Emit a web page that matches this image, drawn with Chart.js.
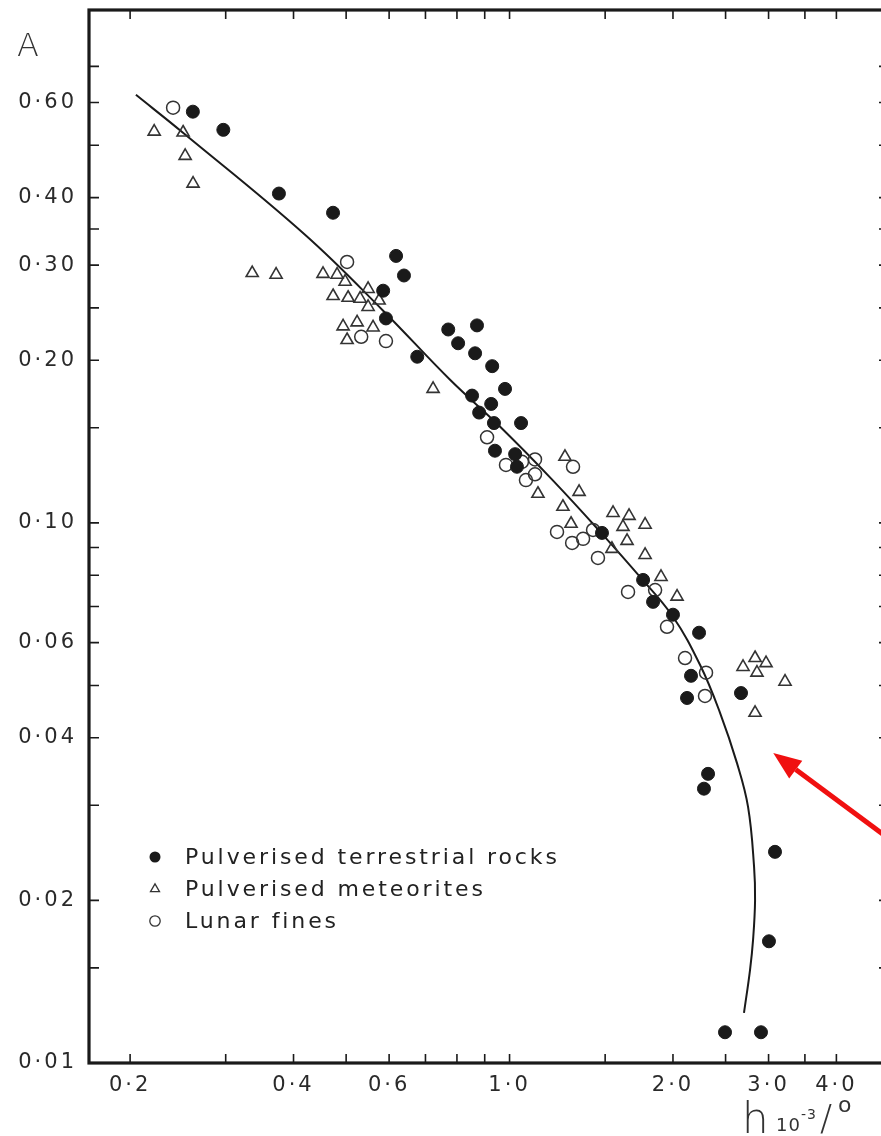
<!DOCTYPE html>
<html>
<head>
<meta charset="utf-8">
<script src="https://cdn.jsdelivr.net/npm/chart.js@4/dist/chart.umd.min.js"></script>
<style>
  html, body { margin: 0; padding: 0; background: #fff; overflow: hidden; width: 881px; height: 1136px; }
  #wrap { position: absolute; left: 0; top: 0; width: 900px; height: 1136px; }
</style>
</head>
<body>
<div id="wrap"><canvas id="c" width="900" height="1136"></canvas></div>
<script>
// Pulverised terrestrial rocks: h (10^-3 /deg) and A
const rocksH = [0.261, 0.297, 0.376, 0.473, 0.618, 0.639, 0.585, 0.592, 0.676, 0.771, 0.804, 0.871, 0.864,
                0.929, 0.981, 0.853, 0.925, 0.879, 0.936, 1.050, 0.940, 1.024, 1.032, 1.480, 1.762, 1.838,
                2.000, 2.234, 2.159, 2.123, 2.669, 2.321, 2.281, 3.083, 3.005, 2.494, 2.905];
const rocksA = [0.577, 0.534, 0.407, 0.375, 0.312, 0.287, 0.269, 0.239, 0.203, 0.228, 0.215, 0.232, 0.206,
                0.195, 0.177, 0.172, 0.166, 0.160, 0.153, 0.153, 0.136, 0.134, 0.127, 0.0958, 0.0784, 0.0714,
                0.0676, 0.0626, 0.0521, 0.0474, 0.0484, 0.0343, 0.0322, 0.0246, 0.0168, 0.0114, 0.0114];

// Pulverised meteorites
const meteorH = [0.2215, 0.2504, 0.2526, 0.2612, 0.3357, 0.3715, 0.4533, 0.4812, 0.4979, 0.4731, 0.5042,
                 0.5305, 0.5488, 0.5488, 0.5750, 0.4936, 0.5238, 0.5605, 0.5020, 0.7230, 1.265, 1.128, 1.343,
                 1.254, 1.298, 1.551, 1.660, 1.777, 1.618, 1.646, 1.777, 1.901, 2.035, 2.692, 2.833, 2.968,
                 2.856, 3.217, 2.833, 1.544];
const meteorA = [0.530, 0.528, 0.478, 0.4245, 0.290, 0.288, 0.289, 0.288, 0.2795, 0.263, 0.261,
                 0.260, 0.271, 0.251, 0.258, 0.231, 0.235, 0.230, 0.218, 0.177, 0.1325, 0.1132, 0.1141,
                 0.1071, 0.0996, 0.1043, 0.1030, 0.0992, 0.0983, 0.0926, 0.0872, 0.0794, 0.0730, 0.0541, 0.0562, 0.0550,
                 0.0528, 0.0508, 0.0445, 0.0895];

// Lunar fines
const lunarH = [0.240, 0.502, 0.533, 0.592, 0.909, 0.985, 1.072, 1.114, 1.114, 1.309, 1.223, 1.304, 1.366,
                1.425, 1.455, 1.653, 1.854, 1.950, 2.105, 2.301, 2.291, 1.054];
const lunarA = [0.587, 0.304, 0.221, 0.217, 0.144, 0.128, 0.120, 0.123, 0.131, 0.127, 0.0962, 0.0918, 0.0934,
                0.0970, 0.0861, 0.0745, 0.0751, 0.0642, 0.0562, 0.0528, 0.0478, 0.1297];

// Fitted curve, traced from top-left down to where it bends back
const curveH = [0.205, 0.250, 0.420, 0.585, 0.777, 0.961, 1.198, 1.486, 1.739, 2.000, 2.243, 2.442,
                2.624, 2.750, 2.821, 2.833, 2.809, 2.773, 2.703];
const curveA = [0.620, 0.528, 0.3415, 0.247, 0.184, 0.1506, 0.1202, 0.0950, 0.0794, 0.0670, 0.0546, 0.0445,
                0.0359, 0.0298, 0.0231, 0.0200, 0.0169, 0.01486, 0.01238];

// Axis ticks and labelled values
const xTicks = [0.2, 0.3, 0.4, 0.5, 0.6, 0.7, 0.8, 0.9, 1, 1.5, 2, 2.5, 3, 3.5, 4];
const xLabels = [0.2, 0.4, 0.6, 1, 2, 3, 4];
const yTicks = [0.01, 0.015, 0.02, 0.03, 0.04, 0.05, 0.06, 0.07, 0.08, 0.09, 0.1, 0.15, 0.2, 0.25, 0.3, 0.35, 0.4, 0.5, 0.6, 0.7];
const yLabels = [0.01, 0.02, 0.04, 0.06, 0.1, 0.2, 0.3, 0.4, 0.6];

const seriesNames = ['Pulverised terrestrial rocks', 'Pulverised meteorites', 'Lunar fines'];

// Annotation arrow (data coordinates of tip and tail)
const arrowTip = [3.06, 0.0375];
const arrowTail = [5.42, 0.0245];

const pairs = (xs, ys) => xs.map((x, i) => ({ x: x, y: ys[i] }));
const FONT = '"DejaVu Sans", "Liberation Sans", sans-serif';
const INK = '#1a1a1a';

const hasValue = (list, v) => list.some(l => Math.abs(l - v) < 1e-9);

// Frame, inward tick marks, legend, titles and arrow
const decorations = {
  id: 'decorations',
  beforeDraw(chart) {
    chart.ctx.letterSpacing = '3px';
  },
  afterDraw(chart) {
    const ctx = chart.ctx;
    const a = chart.chartArea;
    const xs = chart.scales.x, ys = chart.scales.y;
    ctx.save();
    ctx.letterSpacing = '0px';
    ctx.strokeStyle = INK;
    ctx.lineCap = 'butt';

    // inward ticks
    ctx.lineWidth = 1.6;
    ctx.beginPath();
    xTicks.forEach(v => {
      const p = xs.getPixelForValue(v);
      ctx.moveTo(p, a.bottom); ctx.lineTo(p, a.bottom - 9);
      ctx.moveTo(p, a.top); ctx.lineTo(p, a.top + 9);
    });
    yTicks.forEach(v => {
      const p = ys.getPixelForValue(v);
      ctx.moveTo(a.left, p); ctx.lineTo(a.left + 10, p);
      ctx.moveTo(a.right, p); ctx.lineTo(a.right - 10, p);
    });
    ctx.stroke();

    // frame
    ctx.lineWidth = 3.2;
    ctx.strokeRect(a.left, a.top, a.right - a.left, a.bottom - a.top);

    // legend
    const lx = 155, ly = [857, 889, 921];
    const styles = chart.data.datasets.slice(0, 3);
    styles.forEach((ds, i) => {
      const y = ly[i];
      ctx.lineWidth = 1.3;
      ctx.strokeStyle = '#333';
      ctx.fillStyle = INK;
      ctx.beginPath();
      if (ds.pointStyle === 'triangle') {
        const r = 5.2;
        ctx.moveTo(lx, y - r);
        ctx.lineTo(lx + r * 0.866, y + r * 0.5);
        ctx.lineTo(lx - r * 0.866, y + r * 0.5);
        ctx.closePath();
        ctx.stroke();
      } else if (ds.backgroundColor === INK) {
        ctx.arc(lx, y, 5.5, 0, Math.PI * 2);
        ctx.fill();
      } else {
        ctx.arc(lx, y, 5.2, 0, Math.PI * 2);
        ctx.stroke();
      }
      ctx.font = '22px ' + FONT;
      ctx.letterSpacing = '2.9px';
      ctx.fillStyle = '#222';
      ctx.textAlign = 'left';
      ctx.textBaseline = 'middle';
      ctx.fillText(ds.label, 185, y + 1);
    });

    // y title
    ctx.letterSpacing = '0px';
    ctx.fillStyle = '#333';
    ctx.textBaseline = 'alphabetic';
    ctx.font = '300 32px ' + FONT;
    ctx.fillText('A', 17, 56);

    // x title: h 10^-3 /°
    ctx.font = '200 42px ' + FONT;
    ctx.fillText('h', 742, 1133);
    ctx.font = '18px ' + FONT;
    ctx.letterSpacing = '1px';
    ctx.fillText('10', 776, 1131);
    ctx.font = '14px ' + FONT;
    ctx.fillText('-3', 801, 1119);
    ctx.font = '200 36px ' + FONT;
    ctx.letterSpacing = '0px';
    ctx.fillText('/', 820, 1130);
    ctx.font = '22px ' + FONT;
    ctx.fillText('o', 838, 1112);

    // red arrow
    const tx = xs.getPixelForValue(arrowTip[0]), ty = ys.getPixelForValue(arrowTip[1]);
    const sx = xs.getPixelForValue(arrowTail[0]), sy = ys.getPixelForValue(arrowTail[1]);
    const ang = Math.atan2(ty - sy, tx - sx);
    const headLen = 28, headHalf = 11;
    const bx = tx - Math.cos(ang) * headLen, by = ty - Math.sin(ang) * headLen;
    ctx.strokeStyle = '#f01010';
    ctx.fillStyle = '#f01010';
    ctx.lineWidth = 5;
    ctx.beginPath();
    ctx.moveTo(sx, sy);
    ctx.lineTo(bx, by);
    ctx.stroke();
    ctx.beginPath();
    ctx.moveTo(tx, ty);
    ctx.lineTo(bx + Math.sin(ang) * headHalf, by - Math.cos(ang) * headHalf);
    ctx.lineTo(bx - Math.sin(ang) * headHalf, by + Math.cos(ang) * headHalf);
    ctx.closePath();
    ctx.fill();
    ctx.restore();
  }
};

new Chart(document.getElementById('c'), {
  type: 'scatter',
  data: {
    datasets: [
      {
        label: seriesNames[0],
        data: pairs(rocksH, rocksA),
        pointStyle: 'circle',
        pointRadius: 6.5,
        backgroundColor: INK,
        borderColor: INK,
        borderWidth: 1
      },
      {
        label: seriesNames[1],
        data: pairs(meteorH, meteorA),
        pointStyle: 'triangle',
        pointRadius: 7,
        backgroundColor: 'rgba(0,0,0,0)',
        borderColor: '#333',
        borderWidth: 1.6
      },
      {
        label: seriesNames[2],
        data: pairs(lunarH, lunarA),
        pointStyle: 'circle',
        pointRadius: 6.5,
        backgroundColor: 'rgba(0,0,0,0)',
        borderColor: '#333',
        borderWidth: 1.5
      },
      {
        type: 'line',
        label: 'fit',
        data: pairs(curveH, curveA),
        showLine: true,
        pointRadius: 0,
        borderColor: INK,
        borderWidth: 2,
        tension: 0.4,
        fill: false
      }
    ]
  },
  options: {
    responsive: false,
    devicePixelRatio: 1,
    animation: false,
    layout: { padding: { top: 10, right: 11, left: 0, bottom: 0 } },
    plugins: { legend: { display: false }, tooltip: { enabled: false } },
    scales: {
      x: {
        type: 'logarithmic',
        min: 0.168,
        max: 5.0,
        afterBuildTicks: s => { s.ticks = xTicks.map(v => ({ value: v })); },
        afterFit: s => { s.height = 73; s.paddingLeft = 0; s.paddingRight = 0; },
        border: { display: false },
        grid: { display: false, drawTicks: false },
        ticks: {
          autoSkip: false,
          maxRotation: 0,
          padding: 10,
          color: '#2a2a2a',
          font: { family: FONT, size: 21 },
          callback: v => hasValue(xLabels, v) ? v.toFixed(1).replace('.', '·') : ''
        }
      },
      y: {
        type: 'logarithmic',
        min: 0.01,
        max: 0.89,
        afterBuildTicks: s => { s.ticks = yTicks.map(v => ({ value: v })); },
        afterFit: s => { s.width = 89; s.paddingTop = 0; s.paddingBottom = 0; },
        border: { display: false },
        grid: { display: false, drawTicks: false },
        ticks: {
          autoSkip: false,
          padding: 12,
          color: '#2a2a2a',
          font: { family: FONT, size: 21 },
          callback: v => hasValue(yLabels, v) ? v.toFixed(2).replace('.', '·') : ''
        }
      }
    }
  },
  plugins: [decorations]
});
</script>
</body>
</html>
